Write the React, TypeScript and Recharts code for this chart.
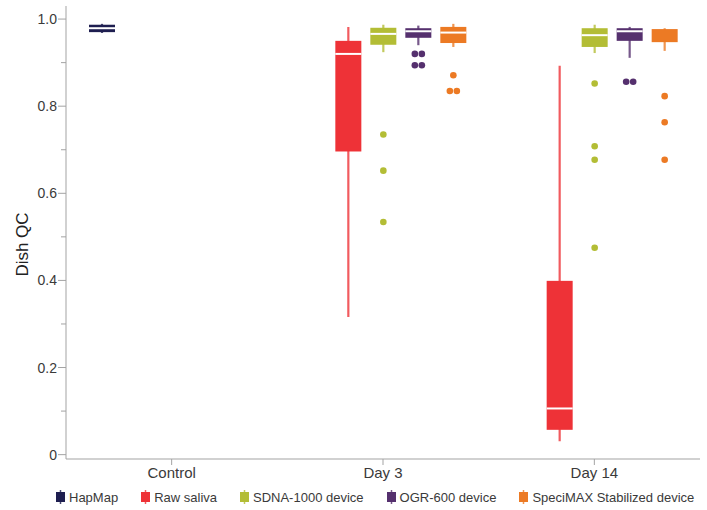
import React from 'react';
import { ComposedChart, Bar, XAxis, YAxis, Legend } from 'recharts';

// Categories on the x axis
const CATEGORIES = ['Control', 'Day 3', 'Day 14'];

// Series names and colours
const SERIES_NAMES = ['HapMap', 'Raw saliva', 'SDNA-1000 device', 'OGR-600 device', 'SpeciMAX Stabilized device'];
const SERIES_KEYS = ['hapmap', 'raw', 'sdna', 'ogr', 'specimax'];
const SERIES_COLORS = ['#1e1e50', '#ee3237', '#b3bd35', '#55306e', '#ec7a24'];

// Box summaries per category: [lower whisker, Q1, median, Q3, upper whisker]
type Five = [number, number, number, number, number] | null;
const HAPMAP_BOX: Five[] = [[0.968, 0.970, 0.979, 0.987, 0.989], null, null];
const RAW_SALIVA_BOX: Five[] = [null, [0.316, 0.696, 0.920, 0.950, 0.982], [0.031, 0.057, 0.106, 0.399, 0.893]];
const SDNA_BOX: Five[] = [null, [0.924, 0.941, 0.966, 0.980, 0.987], [0.922, 0.936, 0.963, 0.979, 0.987]];
const OGR_BOX: Five[] = [null, [0.940, 0.957, 0.972, 0.979, 0.985], [0.911, 0.950, 0.972, 0.979, 0.982]];
const SPECIMAX_BOX: Five[] = [null, [0.936, 0.945, 0.969, 0.982, 0.989], [0.927, 0.947, 0.977, 0.977, 0.979]];

// Outlying dishes per category
const HAPMAP_OUTLIERS: number[][] = [[], [], []];
const RAW_SALIVA_OUTLIERS: number[][] = [[], [], []];
const SDNA_OUTLIERS: number[][] = [[], [0.735, 0.652, 0.534], [0.852, 0.708, 0.677, 0.475]];
const OGR_OUTLIERS: number[][] = [[], [0.920, 0.920, 0.894, 0.894], [0.856, 0.856]];
const SPECIMAX_OUTLIERS: number[][] = [[], [0.871, 0.835, 0.835], [0.823, 0.763, 0.677]];

// Y axis ticks (labels only on the even tenths)
const Y_TICKS = [0, 0.1, 0.2, 0.3, 0.4, 0.5, 0.6, 0.7, 0.8, 0.9, 1.0];
const Y_DOMAIN: [number, number] = [-0.01, 1.03];

const BOXES = [HAPMAP_BOX, RAW_SALIVA_BOX, SDNA_BOX, OGR_BOX, SPECIMAX_BOX];
const OUTLIERS = [HAPMAP_OUTLIERS, RAW_SALIVA_OUTLIERS, SDNA_OUTLIERS, OGR_OUTLIERS, SPECIMAX_OUTLIERS];

const data = CATEGORIES.map((cat, ci) => {
  const row: any = { cat, stats: [] as any[] };
  SERIES_KEYS.forEach((key, si) => {
    const box = BOXES[si][ci];
    row[key] = box ? [box[0], box[4]] : null;
    row.stats.push(box ? { box, outliers: OUTLIERS[si][ci] } : null);
  });
  return row;
});

const FONT = '"Liberation Sans", Arial, Helvetica, sans-serif';
const AXIS_COLOR = '#a3a3a3';
const TEXT_COLOR = '#3a3a3a';
const Y_TICK_SIZE = 8;
const Y_TICK_MARGIN = 1;

// Draws a full box plot inside the slot the bar occupies; the bar spans the whisker range
const makeBoxShape = (si: number) => (props: any) => {
  const { x, y, width, height, payload } = props;
  const stats = payload && payload.stats ? payload.stats[si] : null;
  if (!stats || width == null || y == null || height == null) return <g />;
  const [lo, q1, med, q3, hi] = stats.box as number[];
  const top = Math.min(y, y + height);
  const bottom = Math.max(y, y + height);
  const px = (v: number) => bottom - ((v - lo) / (hi - lo)) * (bottom - top);
  const cx = x + width / 2;
  const color = SERIES_COLORS[si];

  // spread repeated outlier values side by side
  const counts: Record<string, number> = {};
  (stats.outliers as number[]).forEach((v) => { counts[v.toFixed(4)] = (counts[v.toFixed(4)] || 0) + 1; });
  const seen: Record<string, number> = {};
  const dots = (stats.outliers as number[]).map((v, i) => {
    const k = v.toFixed(4);
    const n = counts[k];
    const j = seen[k] || 0;
    seen[k] = j + 1;
    const dx = (j - (n - 1) / 2) * 7;
    return <circle key={i} cx={cx + dx} cy={px(v)} r={3.3} fill={color} />;
  });

  return (
    <g>
      <line x1={cx} x2={cx} y1={px(hi)} y2={px(lo)} stroke={color} strokeWidth={2.2} strokeOpacity={0.8} />
      <rect x={x} y={px(q3)} width={width} height={px(q1) - px(q3)} fill={color} />
      {med > q1 && med < q3 && (
        <line x1={x} x2={x + width} y1={px(med)} y2={px(med)} stroke="#ffffff" strokeWidth={2} />
      )}
      {dots}
    </g>
  );
};

const YTick = (props: any) => {
  const { x, y, payload } = props;
  const v = payload.value as number;
  const major = Math.round(v * 10) % 2 === 0;
  const axisX = x + Y_TICK_MARGIN + Y_TICK_SIZE;
  const label = v === 0 ? '0' : v.toFixed(1);
  return (
    <g>
      <line x1={axisX - (major ? Y_TICK_SIZE : 5)} x2={axisX} y1={y} y2={y} stroke={AXIS_COLOR} />
      {major && (
        <text x={x} y={y} dy={5} textAnchor="end" fontFamily={FONT} fontSize={14} fill={TEXT_COLOR}>
          {label}
        </text>
      )}
    </g>
  );
};

const YLabel = (props: any) => {
  const vb = props.viewBox || {};
  const cx = vb.x + 22;
  const cy = vb.y + vb.height / 2 + 12;
  return (
    <text x={cx} y={cy} transform={`rotate(-90, ${cx}, ${cy})`} textAnchor="middle" dominantBaseline="central"
      fontFamily={FONT} fontSize={17} fill="#222">
      Dish QC
    </text>
  );
};

const LegendContent = () => (
  <div style={{ display: 'flex', alignItems: 'center', height: 18, paddingLeft: 56, gap: 23, fontFamily: FONT, fontSize: 13, color: TEXT_COLOR, whiteSpace: 'nowrap' }}>
    {SERIES_NAMES.map((name, i) => (
      <div key={name} style={{ display: 'flex', alignItems: 'center', gap: 4 }}>
        <svg width={9} height={16} style={{ display: 'block' }}>
          <line x1={4.5} x2={4.5} y1={1} y2={15} stroke={SERIES_COLORS[i]} strokeWidth={1.5} strokeOpacity={0.8} />
          <rect x={0} y={3} width={9} height={10} fill={SERIES_COLORS[i]} />
        </svg>
        <span>{name}</span>
      </div>
    ))}
  </div>
);

export default function App() {
  return (
    <div style={{ position: 'absolute', left: 0, top: 0, background: '#fff' }}>
      <ComposedChart
        width={707}
        height={510}
        data={data}
        margin={{ top: 6, right: 7, bottom: 4, left: 0 }}
        barGap={9}
        barSize={26}
      >
        <XAxis
          dataKey="cat"
          height={29}
          tickSize={6}
          tickMargin={2}
          stroke={AXIS_COLOR}
          tick={{ fontFamily: FONT, fontSize: 15, fill: TEXT_COLOR }}
        />
        <XAxis xAxisId="top" dataKey="cat" orientation="top" height={0} tick={false} tickLine={false} stroke={AXIS_COLOR} />
        <YAxis
          type="number"
          domain={Y_DOMAIN}
          ticks={Y_TICKS}
          interval={0}
          width={66}
          tickSize={Y_TICK_SIZE}
          tickMargin={Y_TICK_MARGIN}
          tickLine={false}
          stroke={AXIS_COLOR}
          tick={<YTick />}
          label={<YLabel />}
        />
        <YAxis yAxisId="right" type="number" domain={Y_DOMAIN} orientation="right" width={0} tick={false} tickLine={false} stroke={AXIS_COLOR} />
        <Legend verticalAlign="bottom" content={<LegendContent />} wrapperStyle={{ left: 0, width: 707 }} />
        {SERIES_KEYS.map((key, si) => (
          <Bar
            key={key}
            dataKey={key}
            name={SERIES_NAMES[si]}
            fill={SERIES_COLORS[si]}
            shape={makeBoxShape(si)}
            isAnimationActive={false}
          />
        ))}
      </ComposedChart>
    </div>
  );
}
